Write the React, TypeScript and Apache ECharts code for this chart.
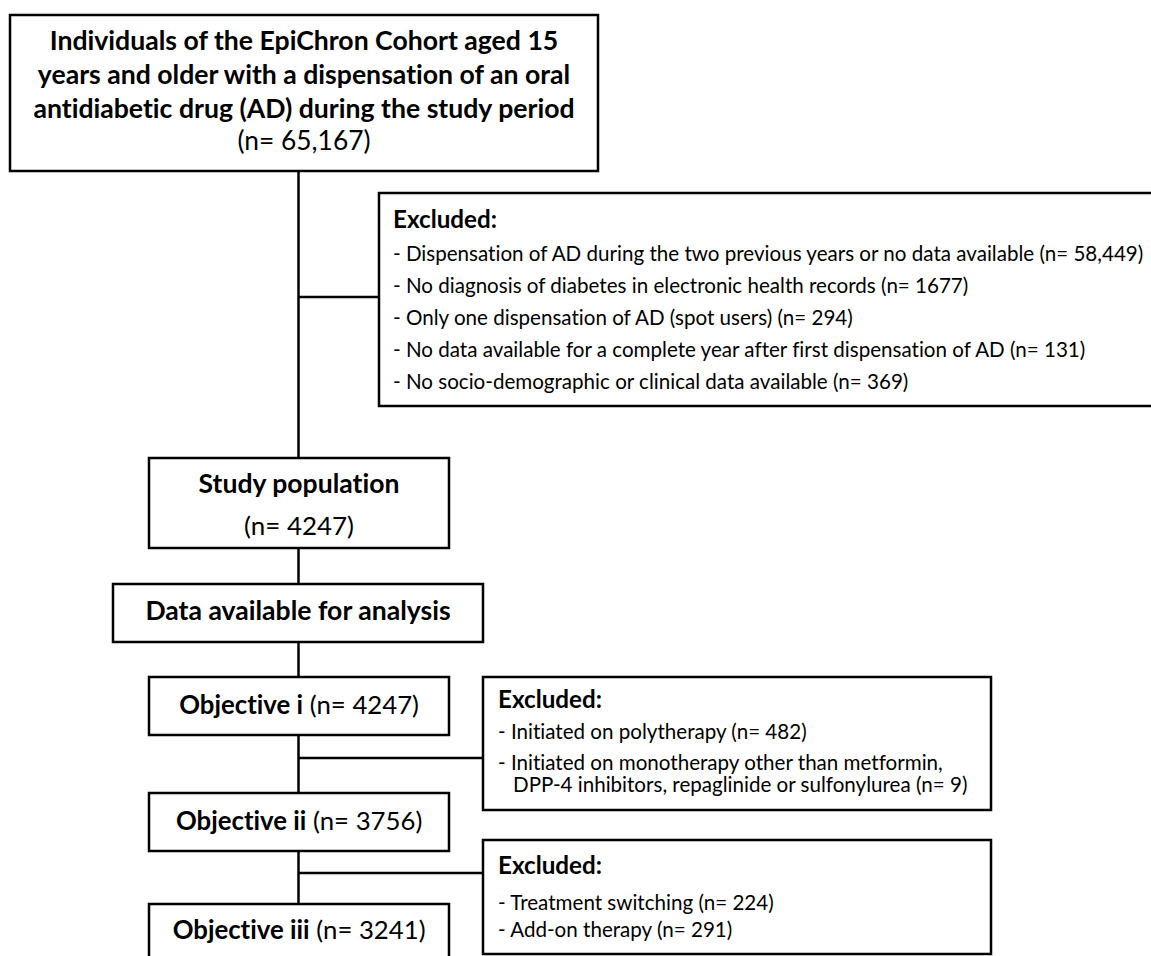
import React, { useEffect, useRef } from "react";
import * as echarts from "echarts";

const FAMILY = "Lato, 'Noto Sans', sans-serif";

// ---- content (flow chart texts and counts) ----
const cohortLines = [
  "Individuals of the EpiChron Cohort aged 15",
  "years and older with a dispensation of an oral",
  "antidiabetic drug (AD) during the study period",
];
const cohortN = "65,167";

const excludedHeader = "Excluded:";
const excluded1Labels = [
  "Dispensation of AD during the two previous years or no data available",
  "No diagnosis of diabetes in electronic health records",
  "Only one dispensation of AD (spot users)",
  "No data available for a complete year after first dispensation of AD",
  "No socio-demographic or clinical data available",
];
const excluded1Counts = ["58,449", "1677", "294", "131", "369"];

const studyLabel = "Study population";
const studyN = "4247";
const dataLabel = "Data available for analysis";

const objectiveLabels = ["Objective i", "Objective ii", "Objective iii"];
const objectiveCounts = ["4247", "3756", "3241"];

const excluded2Labels = [
  "Initiated on polytherapy",
  "Initiated on monotherapy other than metformin,",
];
const excluded2Cont = "DPP-4 inhibitors, repaglinide or sulfonylurea";
const excluded2Counts = ["482", "9"];

const excluded3Labels = ["Treatment switching", "Add-on therapy"];
const excluded3Counts = ["224", "291"];

// ---- helpers ----
let ctx: CanvasRenderingContext2D | null = null;
function measure(text: string, weight: string, size: number) {
  if (!ctx) ctx = document.createElement("canvas").getContext("2d");
  if (!ctx) return text.length * size * 0.5;
  ctx.font = `${weight} ${size}px Lato`;
  return ctx.measureText(text).width;
}
function fit(text: string, weight: string, target: number) {
  return (100 * target) / measure(text, weight, 100);
}

const LW = 2.5;
function rect(x: number, y: number, w: number, h: number) {
  return {
    type: "rect",
    shape: { x, y, width: w, height: h },
    style: { fill: "#fff", stroke: "#000", lineWidth: LW },
    z: 1,
  };
}
function line(x1: number, y1: number, x2: number, y2: number) {
  return {
    type: "line",
    shape: { x1, y1, x2, y2 },
    style: { stroke: "#000", lineWidth: LW },
    z: 0,
  };
}
function text(
  t: string,
  x: number,
  y: number,
  size: number,
  weight: string,
  align: string = "center"
) {
  return {
    type: "text",
    x,
    y,
    z: 2,
    style: {
      text: t,
      fontSize: size,
      fontFamily: FAMILY,
      fontWeight: weight,
      fill: "#000",
      textAlign: align,
      textVerticalAlign: "middle",
      verticalAlign: "middle",
    },
  };
}
function richText(bold: string, rest: string, x: number, y: number, size: number) {
  return {
    type: "text",
    x,
    y,
    z: 2,
    style: {
      text: `{b|${bold}}{r|${rest}}`,
      rich: {
        b: { fontSize: size, fontFamily: FAMILY, fontWeight: "bold", fill: "#000" },
        r: { fontSize: size, fontFamily: FAMILY, fontWeight: "normal", fill: "#000" },
      },
      fontSize: size,
      fontFamily: FAMILY,
      fill: "#000",
      textAlign: "center",
      textVerticalAlign: "middle",
      verticalAlign: "middle",
    },
  };
}

function buildGraphics() {
  const els: any[] = [];
  const TRUNK = 298.5;

  // connectors
  els.push(line(TRUNK, 171, TRUNK, 904 + 60));
  els.push(line(TRUNK, 297, 379, 297));
  els.push(line(TRUNK, 758, 483, 758));
  els.push(line(TRUNK, 873, 483, 873));

  // top cohort box
  els.push(rect(10, 15, 588, 156));
  const titleSize = fit(cohortLines[2], "bold", 543);
  const titleY = [40, 74, 108];
  cohortLines.forEach((l, i) => els.push(text(l, 304, titleY[i], titleSize, "bold")));
  const nText = `(n= ${cohortN})`;
  els.push(text(nText, 304, 140, fit(nText, "normal", 133), "normal"));

  // excluded box 1
  els.push(rect(379, 193, 800, 213));
  const hdrSize = fit(excludedHeader, "bold", 104);
  const itemSize = fit(
    `- ${excluded1Labels[0]} (n= ${excluded1Counts[0]})`,
    "normal",
    753
  );
  els.push(text(excludedHeader, 393, 218, hdrSize, "bold", "left"));
  const ex1Y = [253, 285, 317, 349, 381];
  excluded1Labels.forEach((l, i) =>
    els.push(text(`- ${l} (n= ${excluded1Counts[i]})`, 393, ex1Y[i], itemSize, "normal", "left"))
  );

  // study population
  els.push(rect(149, 458, 300, 90));
  els.push(text(studyLabel, 299, 483, fit(studyLabel, "bold", 202), "bold"));
  const sN = `(n= ${studyN})`;
  els.push(text(sN, 299, 525, fit(sN, "normal", 110), "normal"));

  // data available
  els.push(rect(113, 584, 370, 58));
  els.push(text(dataLabel, 298, 610, fit(dataLabel, "bold", 306), "bold"));

  // objectives
  const objBoxes = [
    [677, 58],
    [793, 58],
    [904, 80],
  ];
  const objTextY = [704, 820, 929];
  const objSize =
    (100 * 240) /
    (measure(objectiveLabels[0], "bold", 100) +
      measure(` (n= ${objectiveCounts[0]})`, "normal", 100));
  objectiveLabels.forEach((l, i) => {
    els.push(rect(149, objBoxes[i][0], 300, objBoxes[i][1]));
    els.push(richText(l, ` (n= ${objectiveCounts[i]})`, 299, objTextY[i], objSize));
  });

  // excluded box 2
  els.push(rect(483, 677, 508, 133));
  els.push(text(excludedHeader, 498, 698, hdrSize, "bold", "left"));
  els.push(
    text(`- ${excluded2Labels[0]} (n= ${excluded2Counts[0]})`, 498, 731, itemSize, "normal", "left")
  );
  els.push(text(`- ${excluded2Labels[1]}`, 498, 762, itemSize, "normal", "left"));
  els.push(
    text(`${excluded2Cont} (n= ${excluded2Counts[1]})`, 513, 784, itemSize, "normal", "left")
  );

  // excluded box 3
  els.push(rect(483, 840, 508, 114));
  els.push(text(excludedHeader, 498, 864, hdrSize, "bold", "left"));
  const ex3Y = [902, 929];
  excluded3Labels.forEach((l, i) =>
    els.push(text(`- ${l} (n= ${excluded3Counts[i]})`, 498, ex3Y[i], itemSize, "normal", "left"))
  );

  return els;
}

export default function App() {
  const ref = useRef<HTMLDivElement>(null);
  useEffect(() => {
    document.body.style.margin = "0";
    if (!ref.current) return;
    const chart = echarts.init(ref.current, undefined, { renderer: "svg" });
    chart.setOption({
      animation: false,
      backgroundColor: "#fff",
      graphic: { elements: buildGraphics() },
    });
    return () => chart.dispose();
  }, []);
  return (
    <div
      ref={ref}
      style={{
        width: 1151,
        height: 956,
        fontVariantLigatures: "none",
        fontFeatureSettings: '"liga" 0, "clig" 0',
      }}
    />
  );
}
